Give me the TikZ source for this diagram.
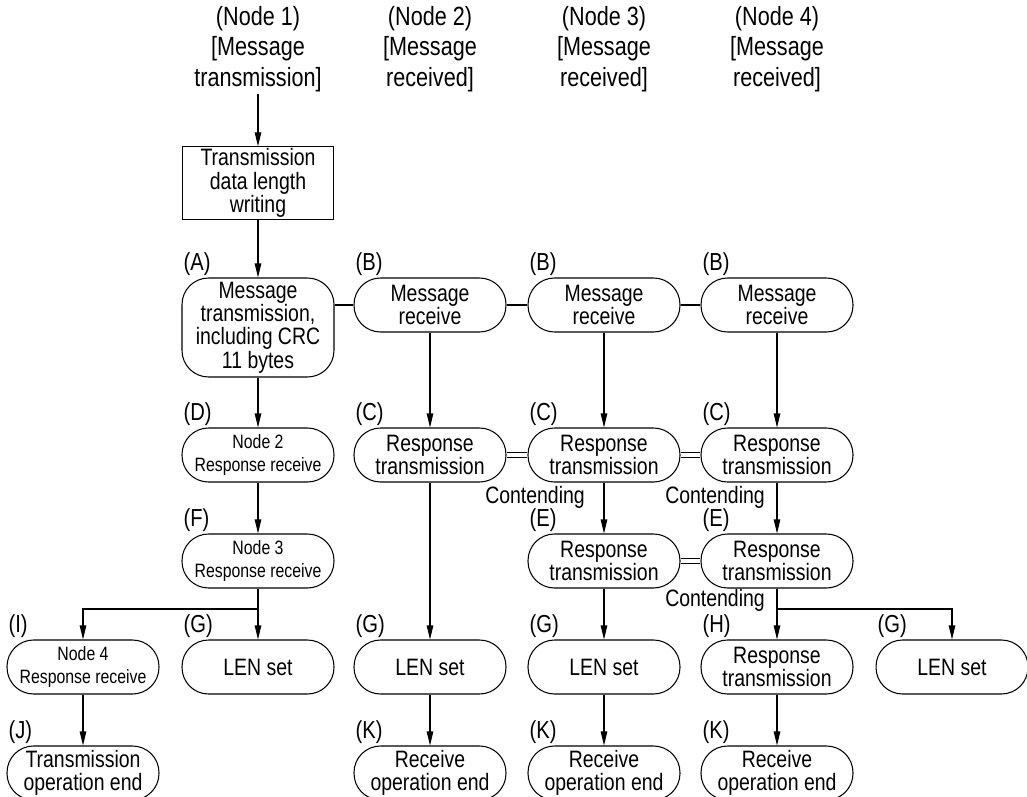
\documentclass[tikz,border=0pt]{standalone}
\usepackage{fontspec}
\setmainfont{Liberation Sans}[FakeStretch=0.82]
\usetikzlibrary{arrows.meta}
\tikzset{
  flowline/.style={line width=0.6pt},
  arr/.style={flowline,-{Triangle[length=2.8mm,width=1.3mm]}},
  dbl/.style={line width=0.5pt,double,double distance=0.9mm},
  term/.style={draw,line width=0.6pt,rounded corners=0.53cm,minimum width=3.04cm,minimum height=1.08cm,inner sep=1pt,align=center,font=\fontsize{13.5}{13.3}\selectfont},
  termsm/.style={term,font=\fontsize{11}{13}\selectfont},
  procbox/.style={draw,line width=0.6pt,minimum width=3.02cm,minimum height=1.4cm,inner sep=1pt,align=center,font=\fontsize{13.5}{13.3}\selectfont},
  hdr/.style={align=center,font=\fontsize{15}{17.3}\selectfont,inner sep=1pt},
  tag/.style={font=\fontsize{14}{14}\selectfont,inner sep=1pt,anchor=south west},
  note/.style={font=\fontsize{13.5}{14}\selectfont,inner sep=1pt}
}

\begin{document}
\begin{tikzpicture}[x=0.02cm,y=-0.02cm]
\useasboundingbox (0,0) rectangle (1027,797);
\clip (0,0) rectangle (1027,797);

\node[hdr] (hdr1) at (258,49) {(Node 1)\\{}[Message\\transmission]};
\node[hdr] (hdr2) at (430,49) {(Node 2)\\{}[Message\\received]};
\node[hdr] (hdr3) at (604,49) {(Node 3)\\{}[Message\\received]};
\node[hdr] (hdr4) at (777,49) {(Node 4)\\{}[Message\\received]};

\node[procbox] (lenw) at (258,183) {Transmission\\data length\\writing};

\node[term,minimum height=1.98cm] (msgA) at (258,327.5) {Message\\transmission,\\including CRC\\11 bytes};
\node[term] (rcvB2) at (430,305) {Message\\receive};
\node[term] (rcvB3) at (604,305) {Message\\receive};
\node[term] (rcvB4) at (777,305) {Message\\receive};

\node[termsm] (rcvD) at (258,455) {Node 2\\Response receive};
\node[term] (rspC2) at (430,455) {Response\\transmission};
\node[term] (rspC3) at (604,455) {Response\\transmission};
\node[term] (rspC4) at (777,455) {Response\\transmission};

\node[termsm] (rcvF) at (258,561) {Node 3\\Response receive};
\node[term] (rspE3) at (604,561) {Response\\transmission};
\node[term] (rspE4) at (777,561) {Response\\transmission};

\node[termsm] (rcvI) at (83,667) {Node 4\\Response receive};
\node[term] (lenG1) at (258,667) {LEN set};
\node[term] (lenG2) at (430,667) {LEN set};
\node[term] (lenG3) at (604,667) {LEN set};
\node[term] (rspH) at (777,667) {Response\\transmission};
\node[term] (lenG5) at (952,667) {LEN set};

\node[term] (endJ) at (83,773) {Transmission\\operation end};
\node[term] (endK2) at (430,773) {Receive\\operation end};
\node[term] (endK3) at (604,773) {Receive\\operation end};
\node[term] (endK4) at (777,773) {Receive\\operation end};

\node[tag] (tA) at (msgA.north west) {(A)};
\node[tag] (tB2) at (rcvB2.north west) {(B)};
\node[tag] (tB3) at (rcvB3.north west) {(B)};
\node[tag] (tB4) at (rcvB4.north west) {(B)};
\node[tag] (tD) at (rcvD.north west) {(D)};
\node[tag] (tC2) at (rspC2.north west) {(C)};
\node[tag] (tC3) at (rspC3.north west) {(C)};
\node[tag] (tC4) at (rspC4.north west) {(C)};
\node[tag] (tF) at (rcvF.north west) {(F)};
\node[tag] (tE3) at (rspE3.north west) {(E)};
\node[tag] (tE4) at (rspE4.north west) {(E)};
\node[tag] (tI) at (rcvI.north west) {(I)};
\node[tag] (tG1) at (lenG1.north west) {(G)};
\node[tag] (tG2) at (lenG2.north west) {(G)};
\node[tag] (tG3) at (lenG3.north west) {(G)};
\node[tag] (tH) at (rspH.north west) {(H)};
\node[tag] (tG5) at (lenG5.north west) {(G)};
\node[tag] (tJ) at (endJ.north west) {(J)};
\node[tag] (tK2) at (endK2.north west) {(K)};
\node[tag] (tK3) at (endK3.north west) {(K)};
\node[tag] (tK4) at (endK4.north west) {(K)};

\node[note] (cnt1) at (535,497) {Contending};
\node[note] (cnt2) at (715,497) {Contending};
\node[note] (cnt3) at (715,600) {Contending};

\draw[arr] (hdr1) -- (lenw);
\draw[arr] (lenw) -- (msgA);
\draw[flowline] (msgA.east |- rcvB2) -- (rcvB2);
\draw[flowline] (rcvB2) -- (rcvB3);
\draw[flowline] (rcvB3) -- (rcvB4);

\draw[arr] (msgA) -- (rcvD);
\draw[arr] (rcvD) -- (rcvF);
\coordinate (brF) at (258,609);
\draw[flowline] (rcvF) -- (brF);
\draw[arr] (brF) -- (lenG1);
\draw[arr] (brF) -| (rcvI);
\draw[arr] (rcvI) -- (endJ);

\draw[arr] (rcvB2) -- (rspC2);
\draw[arr] (rspC2) -- (lenG2);
\draw[arr] (lenG2) -- (endK2);

\draw[arr] (rcvB3) -- (rspC3);
\draw[arr] (rspC3) -- (rspE3);
\draw[arr] (rspE3) -- (lenG3);
\draw[arr] (lenG3) -- (endK3);

\draw[arr] (rcvB4) -- (rspC4);
\draw[arr] (rspC4) -- (rspE4);
\coordinate (brE) at (777,609);
\draw[flowline] (rspE4) -- (brE);
\draw[arr] (brE) -- (rspH);
\draw[arr] (brE) -| (lenG5);
\draw[arr] (rspH) -- (endK4);

\draw[dbl] (rspC2) -- (rspC3);
\draw[dbl] (rspC3) -- (rspC4);
\draw[dbl] (rspE3) -- (rspE4);
\end{tikzpicture}
\end{document}
